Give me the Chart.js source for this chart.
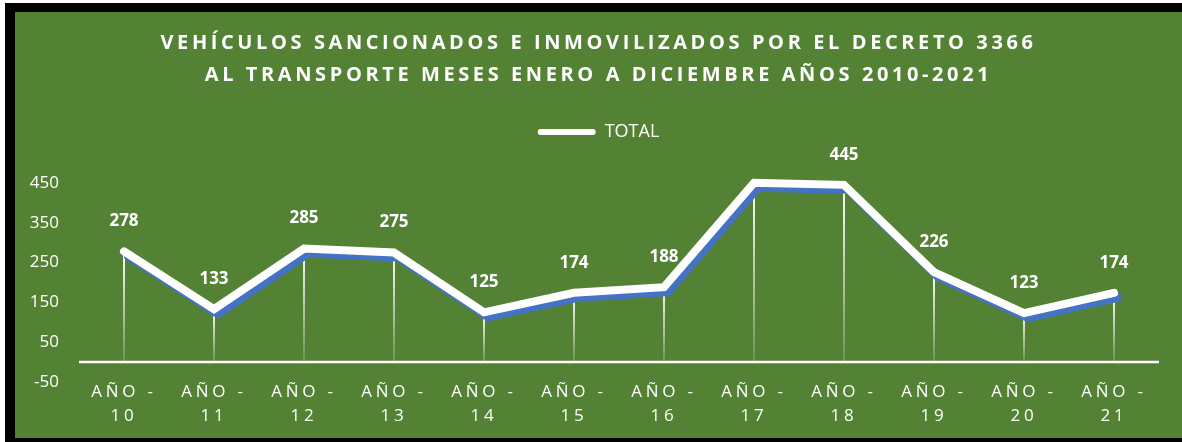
<!DOCTYPE html>
<html>
<head>
<meta charset="utf-8">
<script src="https://cdn.jsdelivr.net/npm/chart.js@4"></script>
<style>
  html, body { margin: 0; padding: 0; background: #fff; overflow: hidden; }
  #frame {
    position: absolute; left: 5px; top: 3px;
    width: 1177px; height: 426px;
    border-left: 10px solid #000; border-top: 9px solid #000; border-bottom: 10px solid #000;
    background: #548235;
  }
  canvas { display: block; }
</style>
</head>
<body>
<div id="frame"><canvas id="chart" width="1167" height="426"></canvas></div>
<script>
// years 2010-2021
const years = ['10', '11', '12', '13', '14', '15', '16', '17', '18', '19', '20', '21'];
const totals = [278, 133, 285, 275, 125, 174, 188, 450, 445, 226, 123, 174];
const showValue = [true, true, true, true, true, true, true, false, true, true, true, true];
const yTicks = [-50, 50, 150, 250, 350, 450];

const FONT = "'Open Sans', sans-serif";

// letter spacing for the title and the category labels,
// and no label clipping on either axis
const spacing = {
  id: 'spacing',
  beforeDraw(chart) {
    const x = chart.scales.x;
    const y = chart.scales.y;
    y._computeLabelArea = () => undefined;
    if (!x._spaced) {
      const orig = x.drawLabels;
      x._computeLabelArea = () => undefined;
      x.drawLabels = function (area) {
        this.ctx.save();
        this.ctx.letterSpacing = '3.8px';
        orig.call(this, area);
        this.ctx.restore();
      };
      x._spaced = true;
    }
    const t = chart.titleBlock;
    if (t && !t._spaced) {
      const origT = t.draw;
      t.draw = function () {
        this.ctx.save();
        this.ctx.letterSpacing = '3.6px';
        origT.apply(this, arguments);
        this.ctx.restore();
      };
      t._spaced = true;
    }
  }
};

// zero line and fading drop lines under each point
const dropLines = {
  id: 'dropLines',
  beforeDatasetsDraw(chart) {
    const ctx = chart.ctx;
    const y = chart.scales.y;
    const area = chart.chartArea;
    const y0 = y.getPixelForValue(0);
    ctx.save();
    chart.getDatasetMeta(0).data.forEach(pt => {
      const g = ctx.createLinearGradient(0, pt.y, 0, y0);
      g.addColorStop(0, 'rgba(255,255,255,1)');
      g.addColorStop(1, 'rgba(255,255,255,0.15)');
      ctx.strokeStyle = g;
      ctx.lineWidth = 2;
      ctx.beginPath();
      ctx.moveTo(pt.x, pt.y);
      ctx.lineTo(pt.x, y0);
      ctx.stroke();
    });
    ctx.strokeStyle = '#fff';
    ctx.lineWidth = 2.5;
    ctx.beginPath();
    ctx.moveTo(area.left, y0);
    ctx.lineTo(area.right, y0);
    ctx.stroke();
    ctx.restore();
  }
};

// blue offset shadow under the white line
const lineShadow = {
  id: 'lineShadow',
  beforeDatasetDraw(chart) {
    const ctx = chart.ctx;
    ctx.save();
    ctx.shadowColor = '#4472C4';
    ctx.shadowOffsetX = 4;
    ctx.shadowOffsetY = 5;
    ctx.shadowBlur = 0;
  },
  afterDatasetDraw(chart) {
    chart.ctx.restore();
  }
};

// value labels above the points
const valueLabels = {
  id: 'valueLabels',
  afterDatasetsDraw(chart) {
    const ctx = chart.ctx;
    const ds = chart.data.datasets[0];
    ctx.save();
    ctx.font = 'bold 17px ' + FONT;
    ctx.fillStyle = '#fff';
    ctx.textAlign = 'center';
    ctx.textBaseline = 'middle';
    chart.getDatasetMeta(0).data.forEach((pt, i) => {
      if (!showValue[i]) return;
      ctx.fillText(String(ds.data[i]), pt.x, pt.y - 30);
    });
    ctx.restore();
  }
};

new Chart(document.getElementById('chart'), {
  type: 'line',
  data: {
    labels: years.map(y => ['AÑO -', y]),
    datasets: [{
      label: 'TOTAL',
      data: totals,
      borderColor: '#fff',
      backgroundColor: '#fff',
      borderWidth: 8,
      borderCapStyle: 'round',
      borderJoinStyle: 'miter',
      pointRadius: 0,
      tension: 0
    }]
  },
  options: {
    responsive: false,
    animation: false,
    devicePixelRatio: 1,
    // equal side padding keeps title and legend centred on the canvas
    layout: { padding: { left: 23, right: 23, top: 0, bottom: 0 } },
    plugins: {
      title: {
        display: true,
        text: ['VEHÍCULOS SANCIONADOS E INMOVILIZADOS POR EL DECRETO 3366',
               'AL TRANSPORTE MESES ENERO A DICIEMBRE AÑOS 2010-2021'],
        color: '#fff',
        font: { family: FONT, size: 20, weight: 'bold', lineHeight: '32px' },
        padding: { top: 15, bottom: 22 }
      },
      legend: {
        position: 'top',
        labels: {
          color: '#fff',
          font: { family: FONT, size: 18 },
          boxWidth: 58,
          boxHeight: 6,
          useBorderRadius: true,
          borderRadius: 3,
          generateLabels: chart => chart.data.datasets.map((ds, i) => ({
            text: ds.label,
            fillStyle: '#fff',
            strokeStyle: '#fff',
            lineWidth: 0,
            fontColor: '#fff',
            borderRadius: 3,
            datasetIndex: i
          }))
        }
      },
      tooltip: { enabled: false }
    },
    scales: {
      x: {
        offset: true,
        grid: { display: false, drawTicks: false, offset: true },
        border: { display: false },
        ticks: {
          color: '#fff',
          font: { family: FONT, size: 17, lineHeight: '24px' },
          padding: -2,
          maxRotation: 0,
          autoSkip: false
        },
        afterFit: s => { s.height = 56; }
      },
      y: {
        min: -50,
        max: 530,
        grid: { display: false, drawTicks: false },
        border: { display: false },
        ticks: {
          color: '#fff',
          font: { family: FONT, size: 17 },
          padding: 20
        },
        afterBuildTicks: s => { s.ticks = yTicks.map(v => ({ value: v })); },
        afterFit: s => { s.width = 41; }
      }
    }
  },
  plugins: [spacing, dropLines, lineShadow, valueLabels]
});
</script>
</body>
</html>
